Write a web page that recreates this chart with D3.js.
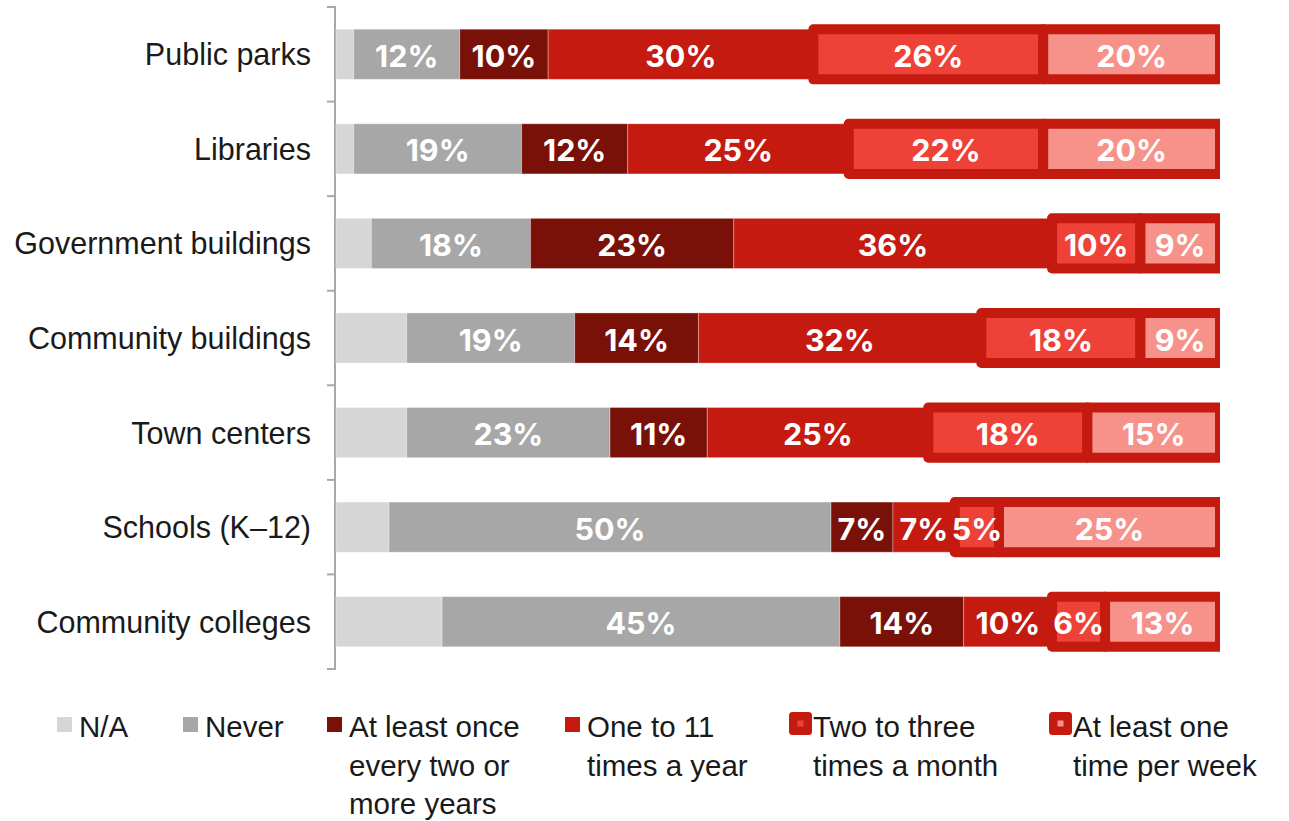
<!DOCTYPE html>
<html>
<head>
<meta charset="utf-8">
<script src="https://cdn.jsdelivr.net/npm/d3@7"></script>
<style>
  html, body { margin: 0; padding: 0; background: #fff; }
  svg { display: block; }
</style>
</head>
<body>
<svg id="chart" width="1289" height="821"></svg>
<script>
// ---- data ----
const categories = ["Public parks", "Libraries", "Government buildings", "Community buildings", "Town centers", "Schools (K\u201312)", "Community colleges"];
const seriesNames = ["N/A", "Never", "At least once every two or more years", "One to 11 times a year", "Two to three times a month", "At least one time per week"];
const naValues       = [2, 2, 4, 8, 8, 6, 12];
const neverValues    = [12, 19, 18, 19, 23, 50, 45];
const biennialValues = [10, 12, 23, 14, 11, 7, 14];
const yearlyValues   = [30, 25, 36, 32, 25, 7, 10];
const monthlyValues  = [26, 22, 10, 18, 18, 5, 6];
const weeklyValues   = [20, 20, 9, 9, 15, 25, 13];
const legendLines = [["N/A"], ["Never"], ["At least once", "every two or", "more years"], ["One to 11", "times a year"], ["Two to three", "times a month"], ["At least one", "time per week"]];

// ---- styles ----
const fills = ["#d6d6d6", "#a7a7a7", "#7a1109", "#c41a0f", "#ee4238", "#f6928a"];
const strokeRed = "#c41a0f";
const outlined = [false, false, false, false, true, true];
const showLabel = [false, true, true, true, true, true];

const svg = d3.select("#chart");

const seriesValues = [naValues, neverValues, biennialValues, yearlyValues, monthlyValues, weeklyValues];
const keys = d3.range(seriesNames.length);
const table = categories.map((c, i) => {
  const row = { cat: c };
  keys.forEach(k => row[k] = seriesValues[k][i]);
  return row;
});
const stacked = d3.stack().keys(keys)(table);

const x = d3.scaleLinear().domain([0, 100]).range([336, 1220]);
const y = d3.scaleBand().domain(categories).range([7, 669]).paddingInner(0.47).paddingOuter(0.235);

svg.append("defs").append("clipPath").attr("id", "plotclip")
  .append("rect").attr("x", 0).attr("y", 0).attr("width", 1220).attr("height", 821);

// axis
const axisG = svg.append("g");
axisG.append("line").attr("x1", 335).attr("x2", 335).attr("y1", 7).attr("y2", 669)
  .attr("stroke", "#a8a8a8").attr("stroke-width", 2);
const boundaries = categories.map(c => y(c) - y.step() * y.paddingInner() / 2).concat([669]);
boundaries[0] = 7;
axisG.selectAll("line.tick").data(boundaries).join("line").attr("class", "tick")
  .attr("x1", 327).attr("x2", 336).attr("y1", d => d).attr("y2", d => d)
  .attr("stroke", "#a8a8a8").attr("stroke-width", 2);

// category labels
svg.append("g").selectAll("text").data(categories).join("text")
  .attr("x", 311).attr("y", d => y(d) + y.bandwidth() / 2)
  .attr("text-anchor", "end").attr("dominant-baseline", "central")
  .attr("font-family", "'Liberation Sans', Arial, sans-serif").attr("font-size", 30.5)
  .attr("fill", "#1a1a1a").text(d => d);

// bars
const barsG = svg.append("g");
stacked.forEach((layer, k) => {
  const g = barsG.append("g");
  if (outlined[k]) g.attr("clip-path", "url(#plotclip)");
  g.selectAll("rect").data(layer).join("rect")
    .attr("x", d => x(d[0]))
    .attr("y", d => y(d.data.cat))
    .attr("width", d => x(d[1]) - x(d[0]))
    .attr("height", y.bandwidth())
    .attr("fill", fills[k])
    .attr("stroke", outlined[k] ? strokeRed : "rgba(255,255,255,0.3)")
    .attr("stroke-width", outlined[k] ? 10 : 1)
    .attr("stroke-linejoin", outlined[k] ? "round" : "miter");
});

// segment labels
const labG = svg.append("g");
stacked.forEach((layer, k) => {
  if (!showLabel[k]) return;
  labG.selectAll(null).data(layer).join("text")
    .attr("x", d => (x(d[0]) + x(d[1])) / 2)
    .attr("y", d => y(d.data.cat) + y.bandwidth() / 2 + 1)
    .attr("text-anchor", "middle").attr("dominant-baseline", "central")
    .attr("font-family", "Inter, 'Open Sans', sans-serif").attr("font-weight", 700)
    .attr("font-size", 30.5).attr("fill", "#fff")
    .text(d => Math.round(d[1] - d[0]) + "%");
});

// legend
const legendTextX = [79, 205, 349, 587, 813, 1073];
const legendG = svg.append("g");
keys.forEach(k => {
  const tx = legendTextX[k];
  if (outlined[k]) {
    legendG.append("rect").attr("x", tx - 24).attr("y", 712).attr("width", 23).attr("height", 23)
      .attr("rx", 3.5).attr("fill", strokeRed);
    legendG.append("rect").attr("x", tx - 24 + 8.5).attr("y", 712 + 8.5).attr("width", 6).attr("height", 6)
      .attr("fill", fills[k]);
  } else {
    legendG.append("rect").attr("x", tx - 22).attr("y", 717).attr("width", 15).attr("height", 15)
      .attr("fill", fills[k]);
  }
  const t = legendG.append("text").attr("x", tx).attr("y", 737)
    .attr("font-family", "'Liberation Sans', Arial, sans-serif").attr("font-size", 29.5)
    .attr("fill", "#1a1a1a");
  legendLines[k].forEach((line, i) => {
    t.append("tspan").attr("x", tx).attr("y", 737 + i * 38.5).text(line);
  });
});
</script>
</body>
</html>
